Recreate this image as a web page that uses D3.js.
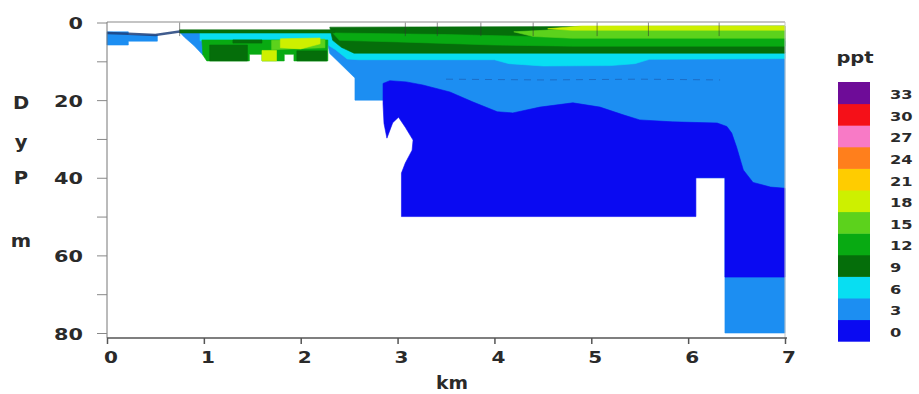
<!DOCTYPE html>
<html>
<head>
<meta charset="utf-8">
<script src="https://cdn.jsdelivr.net/npm/d3@7"></script>
<style>
  html, body { margin: 0; padding: 0; background: #fff; }
  svg { display: block; }
  text { font-family: "DejaVu Sans", Verdana, sans-serif; font-weight: bold; fill: #2a2a2a; }
</style>
</head>
<body>
<svg id="chart" width="919" height="394"></svg>
<script>
// Salinity class limits (ppt) and their fill colours, low to high
const levels = [0, 3, 6, 9, 12, 15, 18, 21, 24, 27, 30, 33];
const bandColors = ["#0a0af2", "#1c8ef2", "#08def2", "#056e0a", "#08aa12", "#5cd21c",
                    "#cdf000", "#ffcc00", "#ff7f1c", "#f87ac6", "#f51018", "#6e0c98"];

const kmTicks = [0, 1, 2, 3, 4, 5, 6, 7];
const depthTicks = [0, 10, 20, 30, 40, 50, 60, 70, 80];
const depthLabels = [0, 20, 40, 60, 80];

// Section outlines, [distance km, depth m], each tagged with its salinity class
const bodyMid = [[2.27,4.6],[2.5,4.8],[7,4.8],[7,80],[6.38,80],[6.38,40],[6.08,40],[6.08,30],
  [3.3,30],[3.3,19],[2.9,17],[2.85,20],[2.56,20],[2.56,14.3],[2.38,9.9],[2.3,8]];
const core = [[2.85,15.7],[2.92,15.0],[3.09,15.3],[3.26,16.1],[3.54,17.9],[3.78,20.5],[4.03,23.0],
  [4.19,23.3],[4.47,21.8],[4.81,20.7],[5.09,21.8],[5.33,23.8],[5.50,25.1],[5.84,25.6],[6.30,25.9],
  [6.40,26.8],[6.45,28.5],[6.50,32.1],[6.57,38.0],[6.67,41.2],[6.85,42.4],[7.0,42.7],[7.0,65.6],
  [6.38,65.6],[6.38,40],[6.08,40],[6.08,50],[3.04,50],[3.04,38.8],[3.08,36.2],[3.15,32.9],
  [3.16,30.3],[3.08,27],[3.01,24.4],[2.95,25.8],[2.89,29.8],[2.86,26],[2.85,21]];
const cyanBand = [[2.26,4.4],[2.4,4.7],[2.52,7.6],[7,7.6],[7,9.3],[5.6,9.5],[5.45,10.6],[5.2,11.1],
  [4.5,11.2],[4.15,10.6],[4.0,9.6],[2.6,9.6],[2.48,9.4],[2.36,7.0],[2.26,5.5]];
const cyanLeft = [[0.96,2.7],[2.36,2.7],[2.36,4.7],[0.96,4.7]];
const shelfBlock = [[0,2.4],[0.22,2.4],[0.22,3.2],[0.52,3.2],[0.52,4.8],[0.22,4.8],[0.22,5.8],[0,5.8]];
const shelfWedge = [[0.75,2.5],[1.0,2.7],[1.0,4.5],[0.99,8.4],[0.9,6],[0.8,3.8]];
const surfaceFilm = [[0.75,1.9],[2.35,1.9],[2.35,2.7],[0.75,2.7]];
const darkGreenLayer = [[2.3,1.2],[7,0.9],[7,7.9],[2.55,7.9],[2.42,6.4],[2.33,4.6]];
const greenLayer = [[2.33,2.7],[3.5,3.1],[4.4,3.6],[4.8,4.0],[7,4.0],[7,6.1],[4.8,6.1],[4.0,5.8],
  [3.0,5.0],[2.4,4.6]];
const lightGreenLayer = [[4.2,2.4],[4.6,1.9],[7,1.9],[7,4.05],[4.8,4.05],[4.4,3.6]];
const topLayer = [[4.55,1.6],[4.9,0.9],[7,0.9],[7,2.0],[4.8,2.0]];
const greenLeft = [[0.98,4.5],[2.28,4.5],[2.28,9.9],[1.93,9.9],[1.93,8.2],[1.83,8.2],[1.83,9.9],
  [1.60,9.9],[1.60,8.2],[1.47,8.2],[1.47,9.9],[1.03,9.9],[0.99,8.4]];
const darkPatchA = [[1.06,5.8],[1.45,5.8],[1.45,9.9],[1.06,9.9]];
const darkPatchB = [[1.96,7.3],[2.27,7.3],[2.27,9.9],[1.96,9.9]];
const darkPatchC = [[1.3,4.5],[1.6,4.5],[1.6,5.3],[1.3,5.3]];
const lightPatch = [[1.7,4.6],[2.25,4.3],[2.25,6.5],[1.7,7.0]];
const yellowPatchA = [[1.79,4.2],[2.2,4.0],[2.2,5.5],[2.0,6.8],[1.79,6.5]];
const yellowPatchB = [[1.60,7.2],[1.75,7.2],[1.75,9.9],[1.60,9.9]];

const regions = [
  { band: 1, pts: bodyMid }, { band: 0, pts: core }, { band: 1, pts: shelfBlock },
  { band: 1, pts: shelfWedge }, { band: 2, pts: cyanLeft }, { band: 2, pts: cyanBand },
  { band: 3, pts: darkGreenLayer }, { band: 4, pts: greenLayer }, { band: 5, pts: lightGreenLayer },
  { band: 6, pts: topLayer }, { band: 3, pts: surfaceFilm }, { band: 4, pts: greenLeft },
  { band: 3, pts: darkPatchA }, { band: 3, pts: darkPatchB }, { band: 3, pts: darkPatchC },
  { band: 5, pts: lightPatch }, { band: 6, pts: yellowPatchA }, { band: 6, pts: yellowPatchB }
];

// Ship track across the shallow part, sampling stations and a faint isohaline trace
const trackLine = [[0.0,2.7],[0.22,2.9],[0.5,3.2],[0.75,2.3]];
const stationKm = [0.75, 3.08, 3.41, 3.86, 4.40, 5.06, 5.59, 6.32];
const faintContour = [[3.5,14.6],[4.5,14.8],[5.5,14.6],[6.33,14.8]];

const svg = d3.select("#chart");
const x = d3.scaleLinear().domain([0, 7]).range([107, 785]);
const y = d3.scaleLinear().domain([0, 80]).range([22.5, 333]);
const line = d3.line().x(d => x(d[0])).y(d => y(d[1]));

// Filled salinity classes
svg.append("g").selectAll("path").data(regions).join("path")
  .attr("d", d => line(d.pts) + "Z")
  .attr("fill", d => bandColors[d.band])
  .attr("stroke", d => bandColors[d.band])
  .attr("stroke-width", 0.6);

svg.append("path").attr("d", line(trackLine))
  .attr("fill", "none").attr("stroke", "#1f3f7a").attr("stroke-width", 2.5).attr("opacity", 0.85);
svg.append("path").attr("d", line(faintContour))
  .attr("fill", "none").attr("stroke", "#1a55a8").attr("stroke-width", 1)
  .attr("stroke-dasharray", "7,6").attr("opacity", 0.6);
svg.append("g").selectAll("line").data(stationKm).join("line")
  .attr("x1", d => x(d)).attr("x2", d => x(d))
  .attr("y1", y(0)).attr("y2", y(3.5))
  .attr("stroke", "#333").attr("stroke-width", 1).attr("opacity", 0.55);

// Frame: top and right edges
svg.append("line").attr("x1", x(0)).attr("x2", x(7)).attr("y1", 22).attr("y2", 22)
  .attr("stroke", "#8a8a8a").attr("stroke-width", 1.2);
svg.append("line").attr("x1", x(7)).attr("x2", x(7)).attr("y1", 22).attr("y2", 338)
  .attr("stroke", "#c4c4c4").attr("stroke-width", 1);

// Stretched bold text helper
function label(g, px, py, str, size, anchor, sx) {
  g.append("text")
    .attr("transform", `translate(${px},${py}) scale(${sx},1)`)
    .attr("text-anchor", anchor)
    .attr("dominant-baseline", "central")
    .attr("font-size", size)
    .text(str);
}

// Depth axis
const yAxis = svg.append("g").attr("transform", "translate(107,0)")
  .call(d3.axisLeft(y).tickValues(depthTicks).tickSize(10).tickFormat(""));
yAxis.select(".domain").attr("d", "M0,22V338").attr("stroke", "#777");
yAxis.selectAll(".tick line").attr("stroke", "#888");
depthLabels.forEach(v => label(svg, 83, y(v) + 1, String(v), 16, "end", 1.3));

// Distance axis
const xAxis = svg.append("g").attr("transform", "translate(0,338)")
  .call(d3.axisBottom(x).tickValues(kmTicks).tickSize(6).tickFormat(""));
xAxis.select(".domain").attr("d", `M${x(0)},0H${x(7) + 2}`).attr("stroke", "#555").attr("stroke-width", 1.5);
xAxis.selectAll(".tick line").attr("stroke", "#555").attr("stroke-width", 1.5);
kmTicks.forEach(v => label(svg, x(v) + 4, 357, String(v), 16, "middle", 1.25));
label(svg, 452, 383, "km", 17, "middle", 1.1);

// Vertical axis title, one letter per row
[["D", 103], ["y", 142], ["P", 178], ["m", 241]].forEach(([ch, py]) =>
  label(svg, 21, py, ch, 17, "middle", 1.15));

// Colour key
const keyTop = 82, keyH = 21.6;
const key = svg.append("g");
key.selectAll("rect").data(levels).join("rect")
  .attr("x", 838).attr("width", 32)
  .attr("y", (d, i) => keyTop + (levels.length - 1 - i) * keyH)
  .attr("height", keyH + 0.5)
  .attr("fill", (d, i) => bandColors[i]);
levels.forEach((v, i) =>
  label(key, 890, keyTop + (levels.length - 1 - i) * keyH + keyH / 2 + 2, String(v), 12.5, "start", 1.3));
label(svg, 855, 58, "ppt", 15, "middle", 1.3);
</script>
</body>
</html>
